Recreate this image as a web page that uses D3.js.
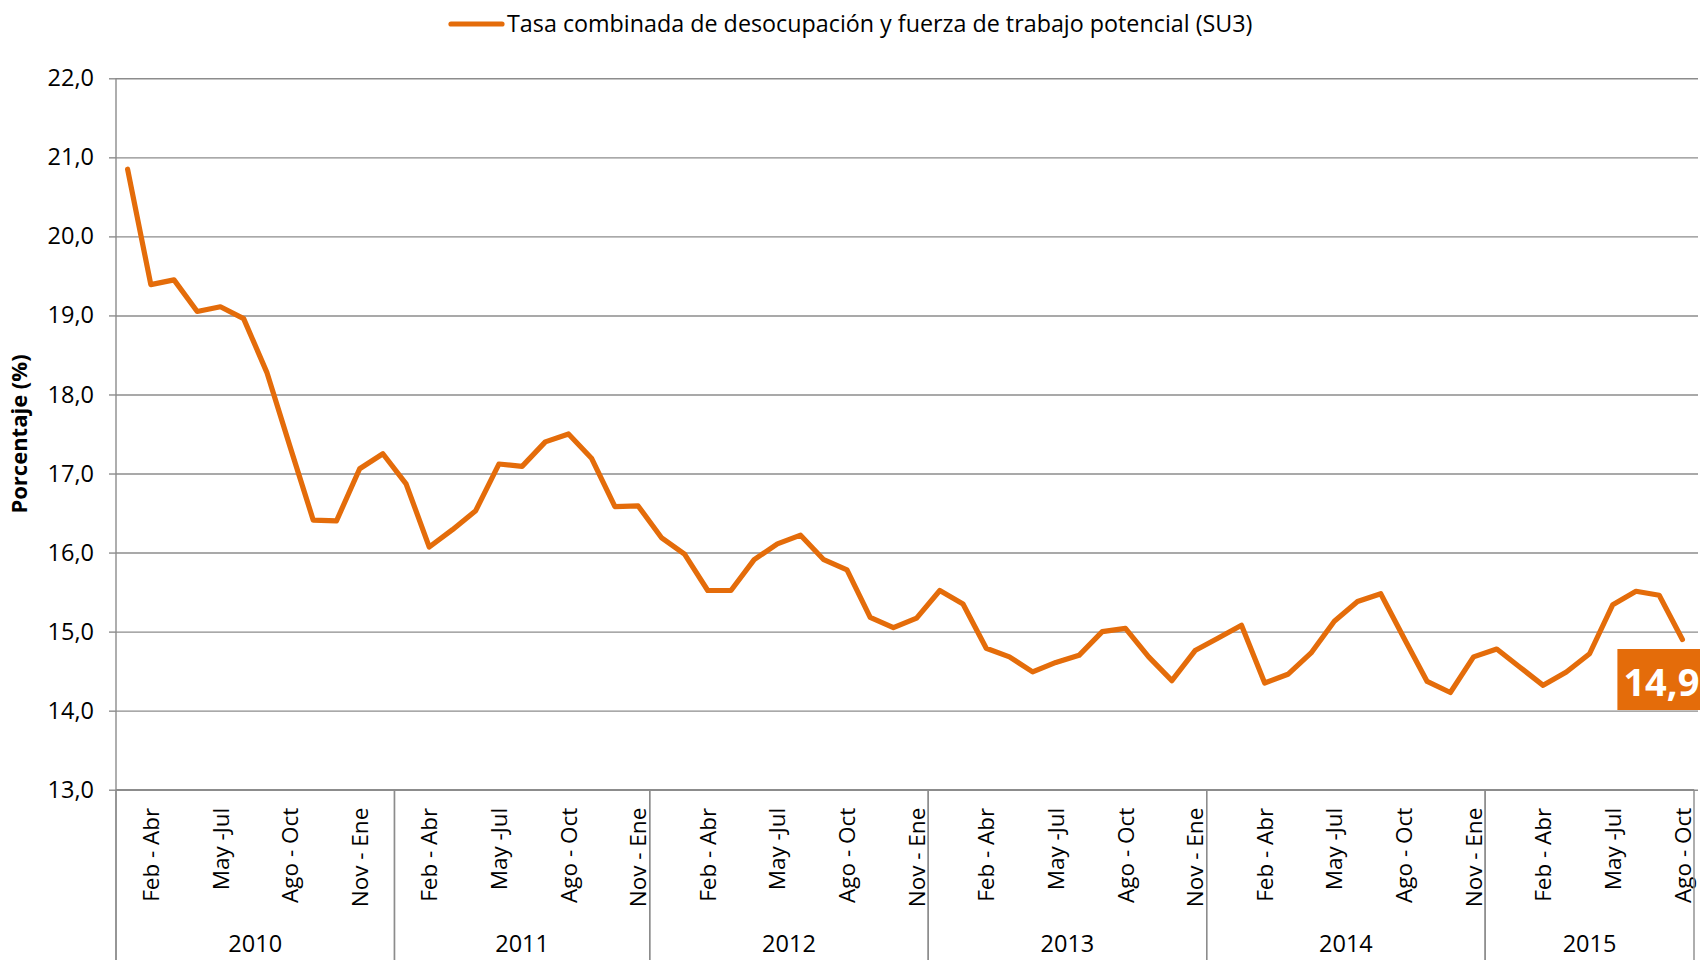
<!DOCTYPE html>
<html>
<head>
<meta charset="utf-8">
<script src="https://cdn.jsdelivr.net/npm/d3@7"></script>
<style>
  html, body { margin: 0; padding: 0; background: #fff; }
  svg { display: block; font-family: "Open Sans", "Noto Sans", sans-serif; }
</style>
</head>
<body>
<svg id="chart" width="1700" height="960"></svg>
<script>
// ---------------- DATA ----------------
const periods = [
  "Ene - Mar","Feb - Abr","Mar - May","Abr - Jun","May -Jul","Jun - Ago","Jul - Sep","Ago - Oct","Sep - Nov","Oct - Dic","Nov - Ene","Dic - Feb",
  "Ene - Mar","Feb - Abr","Mar - May","Abr - Jun","May -Jul","Jun - Ago","Jul - Sep","Ago - Oct","Sep - Nov","Oct - Dic","Nov - Ene",
  "Dic - Feb","Ene - Mar","Feb - Abr","Mar - May","Abr - Jun","May -Jul","Jun - Ago","Jul - Sep","Ago - Oct","Sep - Nov","Oct - Dic","Nov - Ene",
  "Dic - Feb","Ene - Mar","Feb - Abr","Mar - May","Abr - Jun","May -Jul","Jun - Ago","Jul - Sep","Ago - Oct","Sep - Nov","Oct - Dic","Nov - Ene",
  "Dic - Feb","Ene - Mar","Feb - Abr","Mar - May","Abr - Jun","May -Jul","Jun - Ago","Jul - Sep","Ago - Oct","Sep - Nov","Oct - Dic","Nov - Ene",
  "Dic - Feb","Ene - Mar","Feb - Abr","Mar - May","Abr - Jun","May -Jul","Jun - Ago","Jul - Sep","Ago - Oct"
];
const yearLabels = ["2010","2011","2012","2013","2014","2015"];
const yearCounts = [12, 11, 12, 12, 12, 9];
const su3 = [
  20.85,19.39,19.45,19.05,19.11,18.96,18.28,17.34,16.41,16.40,17.06,17.25,
  16.87,16.07,16.29,16.53,17.12,17.09,17.40,17.50,17.19,16.58,16.59,
  16.19,15.98,15.52,15.52,15.91,16.11,16.22,15.91,15.78,15.18,15.05,15.17,
  15.52,15.35,14.79,14.68,14.49,14.61,14.70,15.00,15.04,14.68,14.38,14.76,
  14.92,15.08,14.35,14.46,14.73,15.13,15.38,15.48,14.92,14.37,14.23,14.68,
  14.78,14.55,14.32,14.49,14.72,15.34,15.51,15.46,14.90
];
const yTicks = [13,14,15,16,17,18,19,20,21,22];
const seriesName = "Tasa combinada de desocupación y fuerza de trabajo potencial (SU3)";
const yTitle = "Porcentaje (%)";

// ---------------- LAYOUT ----------------
const W = 1700, H = 960;
const plotL = 116, plotR = 1694, plotT = 78.3, plotB = 789.7;
const orange = "#E46C0A";
const gridCol = "#8c8c8c";

const svg = d3.select("#chart");

const x = d3.scaleBand().domain(d3.range(periods.length)).range([plotL, plotR]).padding(0);
const y = d3.scaleLinear().domain([13, 22]).range([plotB, plotT]);
const fmt = v => v.toFixed(1).replace(".", ",");

// gridlines
svg.append("g")
  .attr("transform", `translate(${plotL},0)`)
  .call(d3.axisRight(y).tickValues(yTicks).tickSize(plotR - plotL + 4).tickFormat(""))
  .call(g => g.select(".domain").remove())
  .call(g => g.selectAll("line").attr("stroke", gridCol).attr("stroke-width", 1.4));

// y axis
svg.append("g")
  .attr("transform", `translate(${plotL},0)`)
  .call(d3.axisLeft(y).tickValues(yTicks).tickSize(7).tickPadding(15).tickFormat(fmt))
  .call(g => g.select(".domain").remove())
  .call(g => g.selectAll("line").attr("stroke", gridCol).attr("stroke-width", 1.4))
  .call(g => g.selectAll("text").attr("font-size", 23.5).attr("fill", "#000")
      .attr("font-family", "'Open Sans', sans-serif"));

// left axis line extended down through category area
svg.append("line")
  .attr("x1", plotL).attr("x2", plotL).attr("y1", plotT).attr("y2", H)
  .attr("stroke", gridCol).attr("stroke-width", 1.4);

// x axis (month periods), every third label
const shown = d3.range(periods.length).filter(i => i % 3 === 1);
svg.append("g")
  .attr("transform", `translate(0,${plotB})`)
  .call(d3.axisBottom(x).tickValues(shown).tickSize(0).tickFormat(i => periods[i]))
  .call(g => g.select(".domain").remove())
  .call(g => g.selectAll("text")
      .attr("font-size", 22.5).attr("fill", "#000")
      .attr("font-family", "'Open Sans', sans-serif")
      .attr("transform", "rotate(-90)")
      .attr("text-anchor", "end")
      .attr("x", -18).attr("y", 0).attr("dy", "0.36em"));

// year groups
let starts = [], acc = 0;
yearCounts.forEach(c => { starts.push(acc); acc += c; });
const groups = yearLabels.map((lab, k) => ({
  lab, s: starts[k], e: starts[k] + yearCounts[k] - 1
}));
const gx = svg.append("g");
groups.forEach(gr => {
  const x0 = x(gr.s), x1 = x(gr.e) + x.bandwidth();
  gx.append("line").attr("x1", x0).attr("x2", x0).attr("y1", plotB).attr("y2", H)
    .attr("stroke", gridCol).attr("stroke-width", 1.4);
  gx.append("line").attr("x1", x1).attr("x2", x1).attr("y1", plotB).attr("y2", H)
    .attr("stroke", gridCol).attr("stroke-width", 1.4);
  gx.append("text").attr("x", (x0 + x1) / 2).attr("y", 952)
    .attr("text-anchor", "middle").attr("font-size", 23.5).attr("fill", "#000")
    .text(gr.lab);
});

// bottom axis line
svg.append("line").attr("x1", plotL).attr("x2", plotR).attr("y1", plotB).attr("y2", plotB)
  .attr("stroke", gridCol).attr("stroke-width", 1.4);

// series line
const line = d3.line().x((d, i) => x(i) + x.bandwidth() / 2).y(d => y(d));
svg.append("path").datum(su3)
  .attr("d", line).attr("fill", "none")
  .attr("stroke", orange).attr("stroke-width", 5.2)
  .attr("stroke-linejoin", "round").attr("stroke-linecap", "round");

// data label on last point
const li = su3.length - 1;
const lx = x(li) + x.bandwidth() / 2, ly = y(su3[li]);
svg.append("rect").attr("x", lx - 65).attr("y", ly + 9.5).attr("width", 100).attr("height", 61)
  .attr("fill", "#E46C0A");
svg.append("text").attr("x", lx - 59).attr("y", ly + 56)
  .attr("font-size", 38).attr("font-weight", "bold").attr("fill", "#fff")
  .text(fmt(su3[li]));

// y axis title
svg.append("text")
  .attr("transform", `translate(27,434) rotate(-90)`)
  .attr("text-anchor", "middle")
  .attr("font-size", 22).attr("font-weight", "bold").attr("fill", "#000")
  .text(yTitle);

// legend
svg.append("line").attr("x1", 451).attr("x2", 502).attr("y1", 24).attr("y2", 24)
  .attr("stroke", orange).attr("stroke-width", 5.2).attr("stroke-linecap", "round");
svg.append("text").attr("x", 507).attr("y", 24).attr("dy", "0.35em")
  .attr("font-size", 23.3).attr("fill", "#000")
  .text(seriesName);
</script>
</body>
</html>
